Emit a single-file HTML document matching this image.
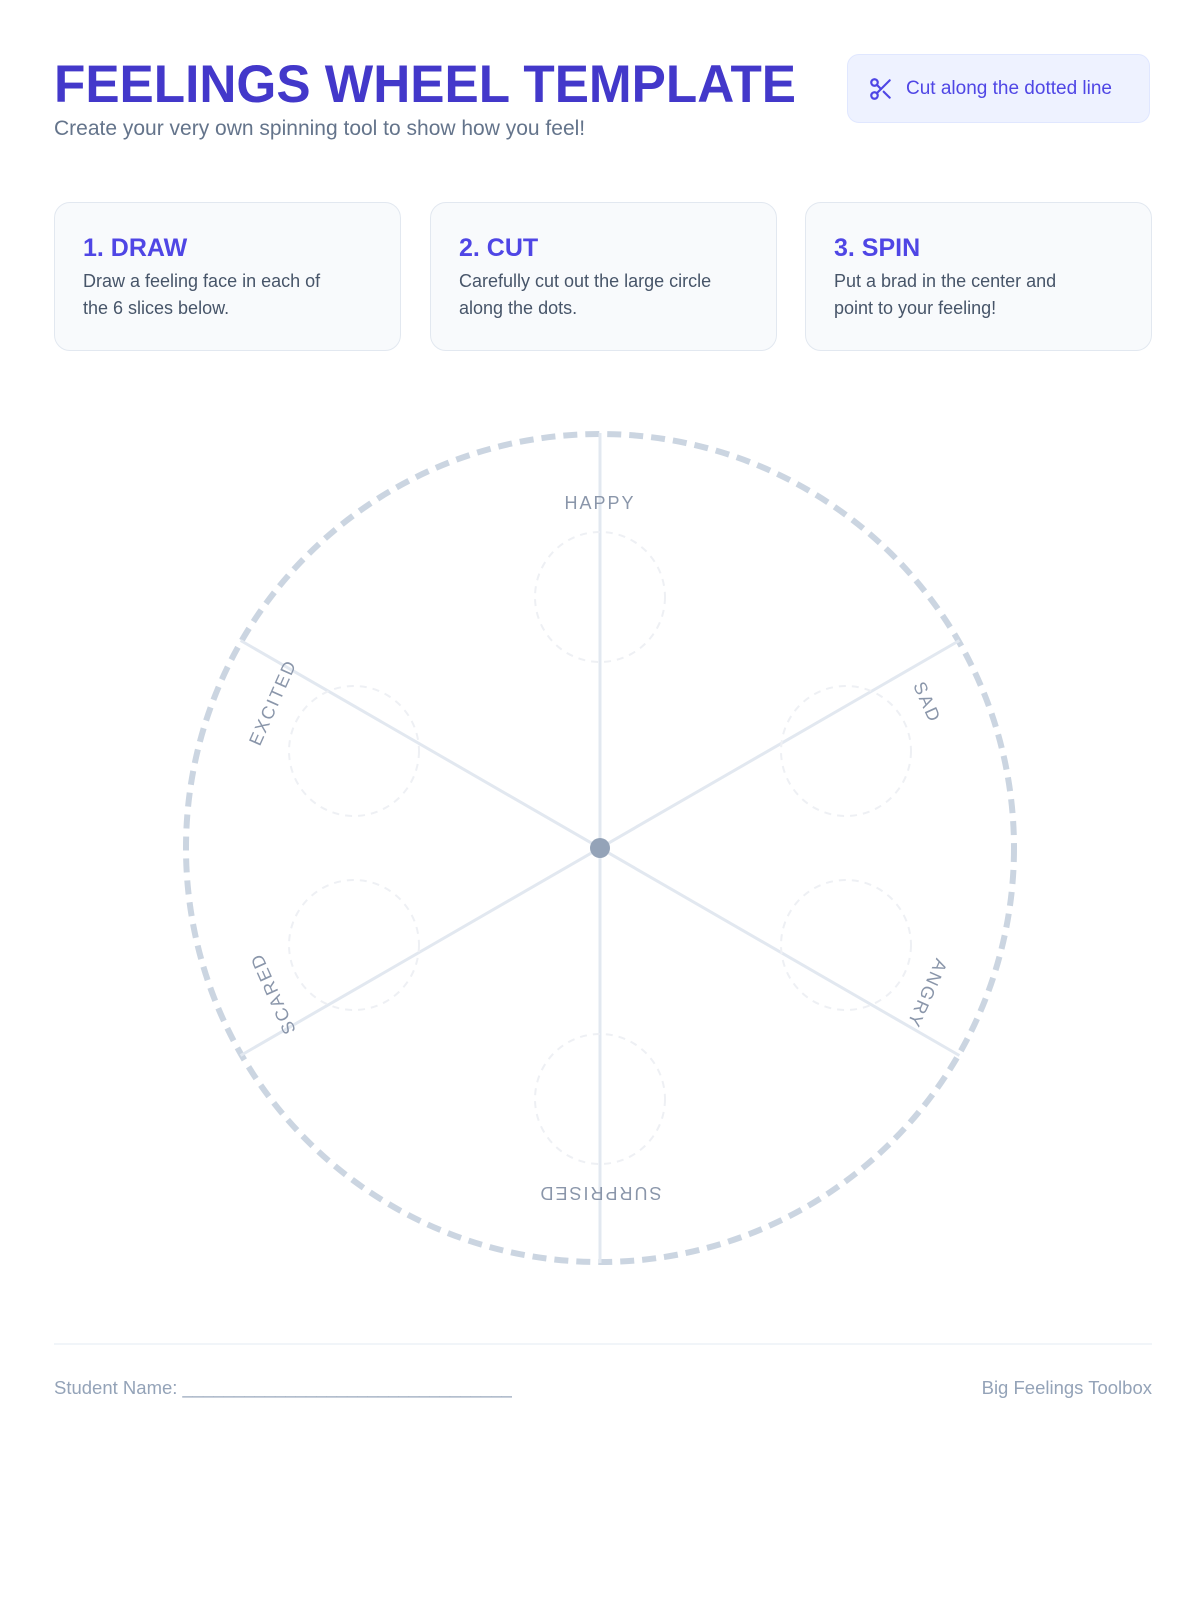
<!DOCTYPE html>
<html><head><meta charset="utf-8"><style>
body{margin:0;width:1200px;height:1600px;background:#fff;position:relative;font-family:"Liberation Sans",sans-serif;overflow:hidden}
.abs{position:absolute}
.sub{left:54px;top:117px;font-size:21px;color:#64748b}
.btn{left:847px;top:54px;width:303px;height:69px;background:#eef2ff;border:1px solid #e0e7ff;border-radius:12px;box-sizing:border-box;color:#4f46e5;font-size:19px;display:flex;align-items:center;padding-left:20px}
.card{top:202px;width:347px;height:149px;background:#f8fafc;border:1.5px solid #e2e8f0;border-radius:16px;box-sizing:border-box;padding:30px 0 0 28px}
.card h3{margin:0;font-size:25px;color:#4f46e5;font-weight:bold;line-height:30px}
.card p{margin:5px 0 0;font-size:18px;color:#475569;line-height:27px}
.foot{top:1377px;font-size:18.5px;color:#94a3b8}
</style></head><body>
<svg class="abs" style="left:0;top:0" width="840" height="120"><text x="54" y="102" textLength="742" lengthAdjust="spacingAndGlyphs" font-family="Liberation Sans" font-weight="bold" font-size="53" fill="#4338ca">FEELINGS WHEEL TEMPLATE</text></svg>
<div class="abs sub">Create your very own spinning tool to show how you feel!</div>
<div class="abs btn"><svg width="26" height="26" viewBox="0 0 24 24" fill="none" stroke="#4f46e5" stroke-width="2" stroke-linecap="round" style="margin-right:12px"><circle cx="6" cy="6" r="3"/><circle cx="6" cy="18" r="3"/><line x1="20" y1="4" x2="8.1" y2="15.9"/><line x1="14.5" y1="14.5" x2="20" y2="20"/><line x1="8.1" y1="8.1" x2="12" y2="12"/></svg>Cut along the dotted line</div>
<div class="abs card" style="left:54px"><h3>1. DRAW</h3><p>Draw a feeling face in each of<br>the 6 slices below.</p></div>
<div class="abs card" style="left:430px"><h3>2. CUT</h3><p>Carefully cut out the large circle<br>along the dots.</p></div>
<div class="abs card" style="left:805px"><h3>3. SPIN</h3><p>Put a brad in the center and<br>point to your feeling!</p></div>
<svg class="abs" style="left:0;top:0" width="1200" height="1340">
<g transform="translate(600,848)">
<circle r="414" fill="none" stroke="#cbd5e1" stroke-width="6" stroke-dasharray="14 8"/>
<g stroke="#e2e8f0" stroke-width="3">
<line x1="0" y1="-415" x2="0" y2="415"/>
<line x1="-359.4" y1="-207.5" x2="359.4" y2="207.5"/>
<line x1="-359.4" y1="207.5" x2="359.4" y2="-207.5"/>
</g>
<g fill="none" stroke="#eef0f4" stroke-width="2" stroke-dasharray="7 6">
<circle cx="0" cy="-251" r="65"/><circle cx="0" cy="251" r="65"/>
<circle cx="246" cy="-97" r="65"/><circle cx="246" cy="97" r="65"/>
<circle cx="-246" cy="-97" r="65"/><circle cx="-246" cy="97" r="65"/>
</g>
<g font-family="Liberation Sans" font-size="18" fill="#8a96aa" text-anchor="middle" letter-spacing="2">
<text transform="rotate(0) translate(0,-339)">HAPPY</text>
<text transform="rotate(66) translate(0,-352)">SAD</text>
<text transform="rotate(114) translate(0,-352)">ANGRY</text>
<text transform="rotate(180) translate(0,-339)">SURPRISED</text>
<text transform="rotate(246) translate(0,-352)">SCARED</text>
<text transform="rotate(294) translate(0,-352)">EXCITED</text>
</g>
<circle r="10" fill="#94a3b8"/>
</g>
</svg>
<div class="abs" style="left:54px;top:1343px;width:1098px;height:2px;background:#f1f5f9"></div>
<div class="abs foot" style="left:54px">Student Name: ________________________________</div>
<div class="abs foot" style="right:48px">Big Feelings Toolbox</div>
</body></html>
